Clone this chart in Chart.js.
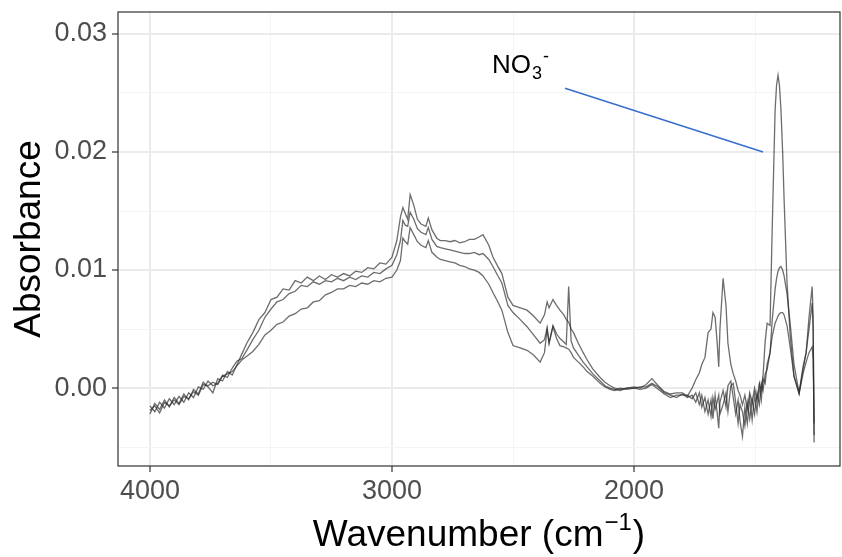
<!DOCTYPE html>
<html>
<head>
<meta charset="utf-8">
<script src="https://cdn.jsdelivr.net/npm/chart.js@4.4.1/dist/chart.umd.min.js"></script>
<style>
  html, body { margin: 0; padding: 0; background: #ffffff; }
  #wrap { width: 842px; height: 557px; position: relative; }
</style>
</head>
<body>
<div id="wrap"><canvas id="spectra"></canvas></div>
<script>
// Wavenumber grid (cm-1), shared by the three spectra
const wavenumbers = [
  4000, 3980, 3960, 3940, 3920, 3900, 3880, 3860, 3840, 3820, 3800, 3780, 3760, 3740, 3720, 3700, 3680, 3660, 3640, 3620, 3600,
  3575, 3550, 3525, 3500, 3475, 3450, 3425, 3400, 3375, 3350, 3325, 3300, 3275, 3250, 3225, 3200, 3175, 3150, 3125, 3100, 3075, 3050, 3025, 3000,
  2980, 2965, 2955, 2945, 2935, 2925, 2910, 2895, 2880, 2860, 2850, 2835, 2815, 2800, 2780, 2760, 2740, 2720,
  2700, 2680, 2660, 2640, 2624, 2600, 2583, 2565, 2546, 2521, 2500, 2470, 2442, 2415, 2388, 2370, 2359, 2351, 2335, 2320, 2306, 2290, 2280, 2270, 2260, 2250, 2230, 2210, 2194, 2170, 2140, 2120, 2099, 2080, 2058, 2030,
  2000, 1975, 1950, 1926, 1900, 1875, 1850, 1825,
  1800, 1780, 1760, 1745, 1730, 1720, 1707, 1694, 1682, 1674, 1665, 1657, 1650, 1645, 1632, 1620, 1612, 1600, 1590, 1580, 1570, 1562, 1552, 1542, 1532, 1522, 1512, 1502, 1492, 1482, 1474, 1467, 1458, 1450,
  1438, 1429, 1417, 1411, 1405, 1399, 1393, 1386, 1380, 1368, 1355, 1339, 1318, 1302, 1289, 1277, 1264, 1260, 1256,
];

// Absorbance of the three spectra
const absorbanceA = [
  -0.0022, -0.0013, -0.0018, -0.0010, -0.0016, -0.0008, -0.0013, -0.0005, -0.0010, -0.0001, -0.0005, 0.0005, 0.0001, -0.0004, 0.0008, 0.0006, 0.0014, 0.0011, 0.0020, 0.0029, 0.0038,
  0.0047, 0.0058, 0.0064, 0.0075, 0.0077, 0.0084, 0.0083, 0.0091, 0.0089, 0.0094, 0.0091, 0.0095, 0.0092, 0.0096, 0.0094, 0.0097, 0.0095, 0.0099, 0.0098, 0.0102, 0.0101, 0.0106, 0.0105, 0.0111,
  0.0125, 0.0145, 0.0153, 0.0148, 0.0143, 0.0164, 0.0155, 0.0143, 0.0139, 0.0137, 0.0144, 0.0134, 0.0127, 0.0125, 0.0125, 0.0124, 0.0125, 0.0123,
  0.0124, 0.0126, 0.0126, 0.0128, 0.0130, 0.0121, 0.0111, 0.0104, 0.0097, 0.0077, 0.0070, 0.0068, 0.0066, 0.0061, 0.0055, 0.0062, 0.0073, 0.0068, 0.0075, 0.0070, 0.0066, 0.0062, 0.0058, 0.0056, 0.0050, 0.0047, 0.0038, 0.0030, 0.0024, 0.0016, 0.0009, 0.0005, 0.0002, 0.0000, -0.0001, 0.0000,
  0.0001, 0.0000, 0.0003, 0.0008, 0.0002, -0.0003, -0.0005, -0.0004,
  -0.0004, -0.0007, 0.0000, 0.0007, 0.0013, 0.0020, 0.0026, 0.0047, 0.0050, 0.0064, 0.0060, 0.0040, 0.0018, 0.0050, 0.0093, 0.0070, 0.0038, 0.0020, 0.0012, 0.0006, -0.0002, -0.0006, -0.0014, -0.0006, -0.0018, -0.0004, -0.0012, 0.0000, -0.0010, 0.0004, -0.0002, 0.0010, 0.0040, 0.0055,
  0.0053, 0.0136, 0.0236, 0.0257, 0.0265, 0.0256, 0.0236, 0.0200, 0.0160, 0.0090, 0.0045, 0.0010, -0.0004, 0.0018, 0.0030, 0.0060, 0.0086, 0.0060, -0.0046,
];

const absorbanceB = [
  -0.0015, -0.0020, -0.0012, -0.0017, -0.0009, -0.0014, -0.0007, -0.0012, -0.0004, -0.0008, 0.0001, -0.0001, 0.0006, 0.0002, 0.0004, 0.0011, 0.0009, 0.0017, 0.0023, 0.0025, 0.0032,
  0.0041, 0.0049, 0.0060, 0.0067, 0.0073, 0.0075, 0.0080, 0.0082, 0.0087, 0.0086, 0.0090, 0.0088, 0.0091, 0.0090, 0.0093, 0.0091, 0.0094, 0.0092, 0.0095, 0.0094, 0.0098, 0.0097, 0.0101, 0.0104,
  0.0113, 0.0125, 0.0142, 0.0138, 0.0137, 0.0149, 0.0143, 0.0135, 0.0132, 0.0130, 0.0136, 0.0126, 0.0120, 0.0119, 0.0118, 0.0117, 0.0116, 0.0115,
  0.0114, 0.0114, 0.0115, 0.0113, 0.0114, 0.0109, 0.0103, 0.0096, 0.0089, 0.0070, 0.0064, 0.0058, 0.0052, 0.0045, 0.0038, 0.0041, 0.0051, 0.0038, 0.0053, 0.0046, 0.0042, 0.0039, 0.0037, 0.0086, 0.0040, 0.0034, 0.0028, 0.0022, 0.0018, 0.0012, 0.0006, 0.0002, 0.0000, -0.0001, -0.0002, 0.0000,
  0.0000, 0.0001, 0.0001, 0.0004, 0.0001, -0.0004, -0.0006, -0.0008,
  -0.0005, -0.0008, -0.0006, -0.0012, -0.0004, -0.0016, -0.0008, -0.0022, -0.0010, -0.0026, -0.0006, -0.0020, -0.0034, -0.0012, -0.0002, -0.0016, 0.0002, 0.0006, -0.0008, -0.0022, -0.0010, -0.0028, -0.0041, -0.0016, -0.0030, -0.0008, -0.0027, -0.0006, -0.0020, 0.0002, -0.0010, 0.0008, 0.0004, 0.0020,
  0.0030, 0.0058, 0.0084, 0.0093, 0.0099, 0.0102, 0.0103, 0.0100, 0.0095, 0.0080, 0.0055, 0.0020, -0.0004, 0.0015, 0.0030, 0.0050, 0.0072, 0.0050, -0.0040,
];

const absorbanceC = [
  -0.0019, -0.0015, -0.0021, -0.0012, -0.0015, -0.0010, -0.0014, -0.0007, -0.0009, -0.0003, -0.0006, 0.0003, 0.0002, 0.0005, 0.0003, 0.0010, 0.0012, 0.0014, 0.0019, 0.0024, 0.0027,
  0.0031, 0.0037, 0.0045, 0.0049, 0.0054, 0.0056, 0.0061, 0.0063, 0.0067, 0.0068, 0.0073, 0.0074, 0.0079, 0.0081, 0.0084, 0.0084, 0.0087, 0.0086, 0.0089, 0.0088, 0.0091, 0.0090, 0.0093, 0.0094,
  0.0100, 0.0108, 0.0127, 0.0124, 0.0122, 0.0136, 0.0130, 0.0124, 0.0121, 0.0119, 0.0125, 0.0115, 0.0111, 0.0109, 0.0108, 0.0107, 0.0106, 0.0104,
  0.0103, 0.0101, 0.0100, 0.0098, 0.0095, 0.0088, 0.0081, 0.0074, 0.0066, 0.0047, 0.0036, 0.0034, 0.0032, 0.0028, 0.0022, 0.0030, 0.0050, 0.0038, 0.0052, 0.0042, 0.0036, 0.0035, 0.0034, 0.0033, 0.0030, 0.0026, 0.0022, 0.0018, 0.0014, 0.0010, 0.0004, 0.0001, -0.0001, -0.0002, 0.0000, -0.0001,
  0.0000, -0.0001, 0.0000, 0.0003, -0.0001, -0.0005, -0.0008, -0.0006,
  -0.0006, -0.0006, -0.0009, -0.0004, -0.0014, -0.0006, -0.0020, -0.0010, -0.0024, -0.0008, -0.0018, -0.0012, -0.0006, -0.0022, -0.0014, -0.0004, -0.0020, 0.0002, 0.0004, -0.0012, -0.0030, -0.0014, -0.0020, -0.0032, -0.0012, -0.0026, -0.0010, -0.0022, -0.0004, -0.0014, 0.0004, -0.0002, 0.0012, 0.0016,
  0.0030, 0.0044, 0.0055, 0.0058, 0.0061, 0.0063, 0.0064, 0.0064, 0.0062, 0.0053, 0.0035, 0.0010, -0.0005, 0.0012, 0.0022, 0.0030, 0.0035, 0.0025, -0.0030,
];

// NO3- annotation: pointer line and label anchor (data units)
const noteLineWn = [2285, 1467];
const noteLineAbs = [0.0254, 0.0200];
const noteLabelWn = 2587;
const noteLabelAbs = 0.0267;

// Axes
const xTickValues = [1500, 2000, 2500, 3000, 3500, 4000];
const yTickValues = [-0.005, 0, 0.005, 0.01, 0.015, 0.02, 0.025, 0.03];
const xRange = [1149, 4132];
const yRange = [-0.0066, 0.03186];
const xTitle = "Wavenumber (cm";
const xTitleSup = "\u22121";
const yTitle = "Absorbance";

const FONT = "'Liberation Sans', Arial, Helvetica, sans-serif";

function isMajor(v, step) {
  return Math.abs(v / step - Math.round(v / step)) < 1e-6;
}

function toPoints(xs, ys) {
  return xs.map((x, i) => ({ x: x, y: ys[i] }));
}

const spectrumStyle = {
  borderColor: "rgba(40, 40, 40, 0.68)",
  borderWidth: 1.3,
  pointRadius: 0,
  tension: 0,
  fill: false,
};

// titles, panel border and the NO3- label
const decorations = {
  id: "decorations",
  afterDraw(chart) {
    const { ctx, chartArea: a, scales } = chart;

    ctx.save();
    ctx.strokeStyle = "#333333";
    ctx.lineWidth = 1.2;
    ctx.strokeRect(a.left, a.top, a.right - a.left, a.bottom - a.top);
    ctx.restore();

    ctx.save();
    ctx.fillStyle = "#000000";
    ctx.font = "37px " + FONT;
    ctx.translate(40, (a.top + a.bottom) / 2);
    ctx.rotate(-Math.PI / 2);
    ctx.textAlign = "center";
    ctx.textBaseline = "alphabetic";
    ctx.fillText(yTitle, 0, 0);
    ctx.restore();

    ctx.save();
    ctx.fillStyle = "#000000";
    ctx.textBaseline = "alphabetic";
    ctx.textAlign = "left";
    ctx.font = "37px " + FONT;
    const w1 = ctx.measureText(xTitle).width;
    const w3 = ctx.measureText(")").width;
    ctx.font = "24px " + FONT;
    const w2 = ctx.measureText(xTitleSup).width;
    const total = w1 + w2 + w3 + 2;
    let x0 = (a.left + a.right) / 2 - total / 2;
    const base = 546;
    ctx.font = "37px " + FONT;
    ctx.fillText(xTitle, x0, base);
    ctx.font = "24px " + FONT;
    ctx.fillText(xTitleSup, x0 + w1 + 1, base - 16);
    ctx.font = "37px " + FONT;
    ctx.fillText(")", x0 + w1 + w2 + 2, base);
    ctx.restore();

    ctx.save();
    const lx = scales.x.getPixelForValue(noteLabelWn);
    const ly = scales.y.getPixelForValue(noteLabelAbs);
    ctx.fillStyle = "#000000";
    ctx.textBaseline = "alphabetic";
    ctx.textAlign = "left";
    ctx.font = "26px " + FONT;
    ctx.fillText("NO", lx, ly);
    const wNo = ctx.measureText("NO").width;
    ctx.font = "18px " + FONT;
    ctx.fillText("3", lx + wNo + 1, ly + 6);
    const w3b = ctx.measureText("3").width;
    ctx.fillText("-", lx + wNo + w3b + 2, ly - 11);
    ctx.restore();
  },
};

function createChart() {
  const canvas = document.getElementById("spectra");

  new Chart(canvas, {
    type: "line",
    data: {
      datasets: [
        Object.assign({ label: "A", data: toPoints(wavenumbers, absorbanceA) }, spectrumStyle),
        Object.assign({ label: "B", data: toPoints(wavenumbers, absorbanceB) }, spectrumStyle),
        Object.assign({ label: "C", data: toPoints(wavenumbers, absorbanceC) }, spectrumStyle),
        {
          label: "NO3 pointer",
          data: toPoints(noteLineWn, noteLineAbs),
          borderColor: "#3a6fd0",
          borderWidth: 1.6,
          pointRadius: 0,
          tension: 0,
          fill: false,
        },
      ],
    },
    options: {
      responsive: true,
      maintainAspectRatio: false,
      animation: false,
      layout: { padding: { top: 12, right: 2, left: 0, bottom: 0 } },
      plugins: {
        legend: { display: false },
        tooltip: { enabled: false },
      },
      scales: {
        x: {
          type: "linear",
          reverse: true,
          min: xRange[0],
          max: xRange[1],
          afterBuildTicks: (s) => {
            s.ticks = xTickValues.map((v) => ({ value: v }));
          },
          afterFit: (s) => {
            s.height = 91;
            s.paddingLeft = 0;
            s.paddingRight = 0;
          },
          border: { display: false },
          grid: {
            color: (c) => (c.tick && isMajor(c.tick.value, 1000) ? "#ebebeb" : "#f4f4f4"),
            lineWidth: (c) => (c.tick && isMajor(c.tick.value, 1000) ? 2 : 1),
            tickColor: (c) => (c.tick && isMajor(c.tick.value, 1000) ? "#333333" : "rgba(0,0,0,0)"),
            tickLength: 6,
            tickWidth: 1.2,
          },
          ticks: {
            color: "#4d4d4d",
            font: { size: 27, family: FONT },
            padding: 3,
            maxRotation: 0,
            autoSkip: false,
            callback: (v) => (isMajor(v, 1000) ? String(v) : ""),
          },
        },
        y: {
          type: "linear",
          min: yRange[0],
          max: yRange[1],
          afterBuildTicks: (s) => {
            s.ticks = yTickValues.map((v) => ({ value: v }));
          },
          afterFit: (s) => {
            s.width = 118;
            s.paddingTop = 0;
            s.paddingBottom = 0;
          },
          border: { display: false },
          grid: {
            color: (c) => (c.tick && isMajor(c.tick.value, 0.01) ? "#ebebeb" : "#f4f4f4"),
            lineWidth: (c) => (c.tick && isMajor(c.tick.value, 0.01) ? 2 : 1),
            tickColor: (c) => (c.tick && isMajor(c.tick.value, 0.01) ? "#333333" : "rgba(0,0,0,0)"),
            tickLength: 6,
            tickWidth: 1.2,
          },
          ticks: {
            color: "#4d4d4d",
            font: { size: 27, family: FONT },
            padding: 5,
            autoSkip: false,
            callback: (v) => (isMajor(v, 0.01) ? v.toFixed(2) : ""),
          },
        },
      },
    },
    plugins: [decorations],
  });
}

document.addEventListener("DOMContentLoaded", function () {
  createChart();
});
</script>
</body>
</html>
